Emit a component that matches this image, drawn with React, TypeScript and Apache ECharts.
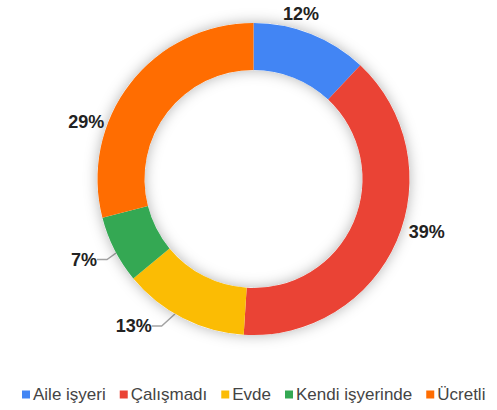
import React, { useEffect, useRef } from "react";
import * as echarts from "echarts";

const categories = ["Aile işyeri", "Çalışmadı", "Evde", "Kendi işyerinde", "Ücretli"];
const shares = [12, 39, 13, 7, 29];
const sliceColors = ["#4285f4", "#ea4335", "#fbbc04", "#34a853", "#ff6d01"];
const leaderLineCategories = ["Evde", "Kendi işyerinde"];
const labelNudgeX = [-43, -3, -4, 9.5, -11];
const labelNudgeY = [-20.4, -9, 8, 9.7, 38.6];

const FONT = 'Arial, "Liberation Sans", Helvetica, sans-serif';
const CENTER = [253.5, 179];
const INNER = 109;
const OUTER = 156;
const LABEL_R = 133;

export default function App() {
  const ref = useRef<HTMLDivElement>(null);
  useEffect(() => {
    document.body.style.margin = "0";
    const chart = echarts.init(ref.current!, undefined, { renderer: "svg" });
    const ringData = categories.map((name, i) => ({
      name,
      value: shares[i],
      itemStyle: { color: sliceColors[i] },
    }));
    const labelData = categories.map((name, i) => {
      const withLine = leaderLineCategories.includes(name);
      return {
        name,
        value: shares[i],
        label: withLine ? { padding: [0, 6, 0, 6] } : { padding: 0 },
        labelLine: { show: withLine },
      };
    });
    chart.setOption({
      animation: false,
      backgroundColor: "#ffffff",
      legend: {
        data: categories,
        left: 22,
        top: 386,
        width: 475,
        icon: "rect",
        itemWidth: 8,
        itemHeight: 8,
        itemGap: 14,
        padding: 0,
        selectedMode: false,
        textStyle: { fontFamily: FONT, fontSize: 17, color: "#444", padding: [0, 0, 0, -2] },
      },
      series: [
        {
          type: "pie",
          name: "shadow",
          center: CENTER,
          radius: [INNER, OUTER],
          silent: true,
          label: { show: false },
          labelLine: { show: false },
          emphasis: { disabled: true },
          data: [
            {
              name: "__shadow",
              value: 1,
              itemStyle: {
                color: "#ffffff",
                shadowBlur: 14,
                shadowColor: "rgba(0,0,0,0.3)",
              },
            },
          ],
        },
        {
          type: "pie",
          name: "ring",
          center: CENTER,
          radius: [INNER, OUTER],
          startAngle: 90,
          clockwise: true,
          silent: true,
          avoidLabelOverlap: false,
          label: { show: false },
          labelLine: { show: false },
          emphasis: { disabled: true },
          itemStyle: { borderWidth: 0 },
          data: ringData,
        },
        {
          type: "pie",
          name: "labels",
          center: CENTER,
          radius: [0, LABEL_R],
          startAngle: 90,
          clockwise: true,
          silent: true,
          avoidLabelOverlap: false,
          itemStyle: { color: "transparent", borderWidth: 0 },
          emphasis: { disabled: true },
          label: {
            show: true,
            position: "outside",
            formatter: (p: any) => `${p.value}%`,
            fontFamily: FONT,
            fontSize: 18,
            fontWeight: "bold",
            color: "#222",
          },
          labelLine: {
            length: OUTER - LABEL_R,
            length2: 10,
            lineStyle: { color: "#a3a3a3", width: 1.4 },
          },
          labelLayout: (p: any) => {
            const i = p.dataIndex;
            const r = p.labelRect;
            const ax =
              p.align === "right" ? r.x + r.width : p.align === "center" ? r.x + r.width / 2 : r.x;
            const ay = r.y + r.height / 2;
            return { x: ax + labelNudgeX[i], y: ay + labelNudgeY[i] };
          },
          data: labelData,
        },
      ],
    });
    return () => chart.dispose();
  }, []);
  return <div ref={ref} style={{ width: 497, height: 410 }} />;
}
